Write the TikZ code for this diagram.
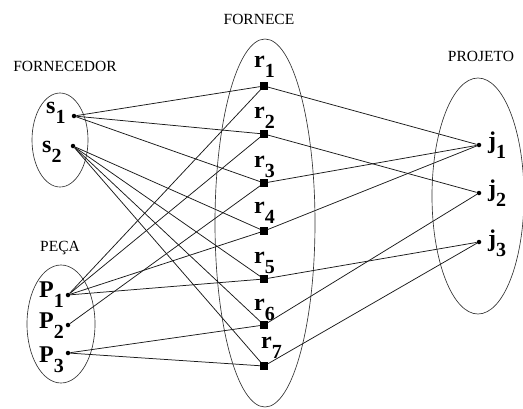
\documentclass[tikz,border=0pt]{standalone}
\usepackage{fontspec}
\setmainfont{Liberation Serif}
\newcommand{\elem}[2]{\fontsize{24}{24}\selectfont\bfseries #1\raisebox{-10.5pt}{\fontsize{20}{20}\selectfont #2}}
\begin{document}
\begin{tikzpicture}[x=1pt,y=-1pt,
    ent/.style={anchor=base,font=\fontsize{15.5}{16}\selectfont},
    elt/.style={inner sep=0pt,anchor=base west},
    pt/.style={circle,fill=black,inner sep=0pt,minimum size=4.5pt},
    rel/.style={rectangle,fill=black,inner sep=0pt,minimum size=7.5pt},
    set/.style={line width=0.65pt,black!80},
    every edge/.style={draw,line width=0.75pt,black!90}]
          \useasboundingbox (0,0) rectangle (523,408);
          % conjuntos
          \draw[set] (60,140) ellipse (28 and 47);
          \draw[set] (61,324) ellipse (34 and 59);
          \draw[set] (265,223) ellipse (50 and 184);
          \draw[set] (478,196) ellipse (46 and 118);
          \node[ent] at (65,71) (fornecedor) {FORNECEDOR};
          \node[ent] at (60,251) (peca) {PEÇA};
          \node[ent] at (259,24) (fornece) {FORNECE};
          \node[ent] at (481,61) (projeto) {PROJETO};
          % elementos
          \node[pt] at (74,116) (s1) {};
          \node[pt] at (73,146) (s2) {};
          \node[pt] at (68,295) (p1) {};
          \node[pt] at (68,325) (p2) {};
          \node[pt] at (68,353) (p3) {};
          \node[rel] at (264,86) (r1) {};
          \node[rel] at (264,134) (r2) {};
          \node[rel] at (264,183) (r3) {};
          \node[rel] at (264,231) (r4) {};
          \node[rel] at (264,279) (r5) {};
          \node[rel] at (264,325) (r6) {};
          \node[rel] at (264,366) (r7) {};
          \node[pt] at (479,145) (j1) {};
          \node[pt] at (479,193) (j2) {};
          \node[pt] at (479,242) (j3) {};
          \node[elt] at (46,113) (ls1) {\elem{s}{1}};
          \node[elt] at (42,152) (ls2) {\elem{s}{2}};
          \node[elt] at (39,297) (lp1) {\elem{P}{1}};
          \node[elt] at (39,328) (lp2) {\elem{P}{2}};
          \node[elt] at (39,362) (lp3) {\elem{P}{3}};
          \node[elt] at (254,67) (lr1) {\elem{r}{1}};
          \node[elt] at (254,118) (lr2) {\elem{r}{2}};
          \node[elt] at (254,167) (lr3) {\elem{r}{3}};
          \node[elt] at (254,213) (lr4) {\elem{r}{4}};
          \node[elt] at (254,263) (lr5) {\elem{r}{5}};
          \node[elt] at (254,310) (lr6) {\elem{r}{6}};
          \node[elt] at (261,348) (lr7) {\elem{r}{7}};
          \node[elt] at (488,148) (lj1) {\elem{j}{1}};
          \node[elt] at (488,196) (lj2) {\elem{j}{2}};
          \node[elt] at (488,246) (lj3) {\elem{j}{3}};
          % fornecedor - fornece
          \path[] (s1) edge (r1);
          \path[] (s1) edge (r2);
          \path[] (s1) edge (r3);
          \path[] (s2) edge (r4);
          \path[] (s2) edge (r5);
          \path[] (s2) edge (r6);
          \path[] (s2) edge (r7);
          % peca - fornece
          \path[] (p1) edge (r1);
          \path[] (p1) edge (r2);
          \path[] (p2) edge (r3);
          \path[] (p1) edge (r4);
          \path[] (p1) edge (r5);
          \path[] (p3) edge (r6);
          \path[] (p3) edge (r7);
          % fornece - projeto
          \path[] (r1) edge (j1);
          \path[] (r2) edge (j2);
          \path[] (r3) edge (j1);
          \path[] (r4) edge (j1);
          \path[] (r5) edge (j3);
          \path[] (r6) edge (j2);
          \path[] (r7) edge (j3);
        \end{tikzpicture}
\end{document}
